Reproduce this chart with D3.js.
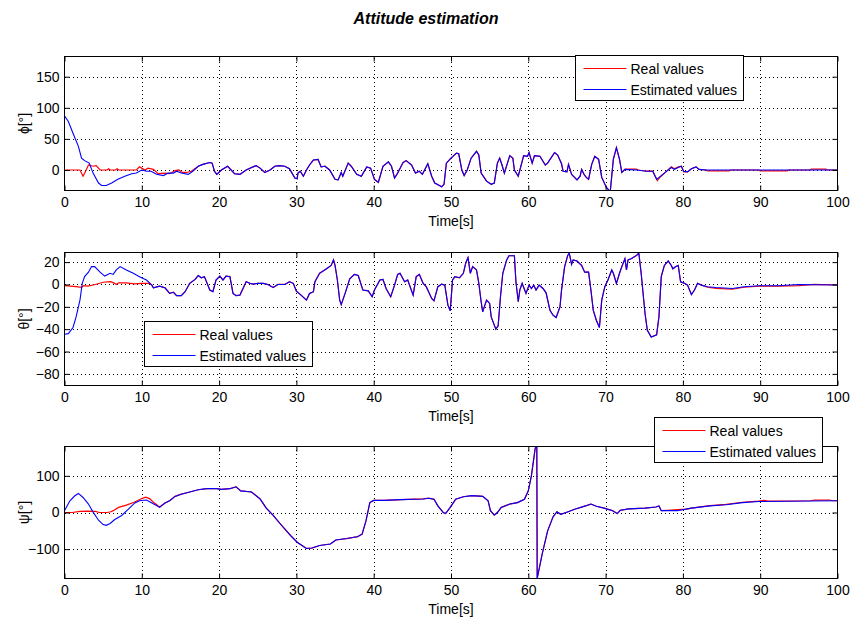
<!DOCTYPE html>
<html>
<head>
<meta charset="utf-8">
<script src="https://cdn.jsdelivr.net/npm/d3@7"></script>
<style>
body { margin: 0; background: #fff; }
svg { font-family: "Liberation Sans", Arial, sans-serif; }
.tick text { font-size: 14px; fill: #000; }
.grid line { stroke: #000; stroke-dasharray: 1,3; shape-rendering: crispEdges; }
.grid path { display: none; }
</style>
</head>
<body>
<script>
// Attitude estimation: real vs estimated angles over 100 s

const xTicks = [0, 10, 20, 30, 40, 50, 60, 70, 80, 90, 100]
const legendLabels = ["Real values", "Estimated values"]

// ---- phi ----
const phiTicks = [0, 50, 100, 150]
const phiEstStart = [[0,87],[0.5,78],[1.1,59],[1.8,38],[2.2,19],[2.6,15],[3.2,11],[3.7,-5],[4.4,-21],[4.8,-25],[5.4,-25],[6.1,-21],[6.9,-15],[7.8,-10],[8.7,-6],[9.3,-5],[10,0],[10.6,-2],[11.2,-2],[11.9,-7],[12.8,-9],[13.4,-5],[14.1,-5],[14.5,-2],[15.1,-5],[16,-7],[16.6,-2]]
const phiRealStart = [[0,0],[2,0],[2.4,-10],[2.7,-3],[3.1,8],[3.7,6],[4.1,7],[4.6,0],[5.5,0],[5.7,2],[5.9,0],[6.6,0],[6.8,2],[7,0],[9.3,0],[9.7,5],[10.4,0],[10.8,3],[11.5,1],[12.1,-6],[13,-5],[13.6,-6],[14.3,-1],[14.8,0],[15.2,-4],[15.8,-4],[16.4,-2],[17,3]]
const phiTrack = [[17.3,6],[17.9,9],[18.8,12],[19.1,11],[19.4,-2],[19.7,-7],[20.3,0],[21.1,6],[21.4,2],[22,-6],[22.7,-7],[23.5,0],[24.4,5],[24.8,7],[25.3,3],[25.9,-4],[26.6,0],[27.2,6],[27.8,7],[28.5,6],[29.1,2],[29.8,-13],[30.1,-14],[30.2,-5],[30.5,-2],[30.9,-10],[31.3,0],[31.7,8],[32.2,16],[32.8,17],[33.2,5],[33.7,6],[34.3,0],[35,-15],[35.4,-16],[35.8,-4],[36,-10],[36.7,11],[37.1,6],[37.8,-7],[38.4,-10],[39.1,5],[39.6,3],[40.1,-15],[40.6,-20],[41.2,6],[41.9,13],[42.3,6],[42.7,-13],[43.1,-5],[43.8,12],[44.2,15],[44.9,8],[45.4,-5],[45.9,-2],[46.3,-7],[47,10],[47.5,-10],[47.9,-21],[48.8,-27],[49.1,-23],[49.4,11],[50,19],[50.7,27],[51,26],[51.4,0],[51.7,-9],[52.1,0],[52.6,19],[53.3,30],[53.6,24],[53.9,-5],[54.6,-18],[55.2,-23],[55.6,-21],[56,11],[56.3,19],[56.6,8],[56.9,-5],[57.6,23],[58,19],[58.2,0],[58.7,-10],[59.4,23],[59.9,22],[60.1,28],[60.5,11],[60.8,23],[61.5,22],[62.2,8],[62.5,11],[63.4,28],[63.8,24],[64.3,10],[64.5,-2],[65,-3],[65.2,9],[65.6,-7],[66.3,-16],[66.7,-10],[66.9,1],[67.2,-7],[67.5,-12],[67.8,-15],[68.2,9],[68.6,22],[69.1,17],[69.5,-12],[70.1,-28],[70.6,-35],[71,17],[71.4,36],[71.8,17],[72.1,-4],[72.5,1]]
const phiEstTail = [[74,0],[75.3,-2],[76.1,-2],[76.6,-15],[77,-11],[77.8,-3],[78.5,4],[78.9,1],[79.4,4],[79.8,6],[80.1,-2],[80.6,-3],[81.1,2],[81.7,5],[82.1,1],[83,0],[100,0]]
const phiRealTail = [[72.6,1.5],[74,1.5],[74.2,0],[75.3,-2],[76.1,-2],[76.7,-17],[77,-12],[77.8,-3],[78.5,5],[78.9,2],[79.4,5],[79.8,6],[80.1,-3],[80.6,-3],[81.1,2],[81.7,5],[82.1,1],[83,0],[83.2,-1.5],[86,-1.5],[86.2,0],[89.8,0],[90,-1.5],[93.5,-1.5],[93.7,0],[96.5,0],[96.6,1.5],[98.5,1.5],[98.7,0],[100,0]]

// ---- theta ----
const thetaTicks = [-80, -60, -40, -20, 0, 20]
const thetaEstStart = [[0,-44.5],[0.5,-44],[1.1,-38.5],[1.5,-29],[2,-14],[2.3,1],[2.6,7],[3.1,11],[3.5,16],[3.9,16],[4.6,11],[5.2,7.5],[5.9,10],[6.3,9],[6.7,13],[7.2,16],[8,13],[8.9,10],[9.7,7],[10.6,4],[11.3,-0.6]]
const thetaRealStart = [[0,-1],[1.5,-2],[2.2,-2.5],[2.5,-1],[3,-1.5],[4,0],[5,2],[6,2.5],[6.5,1],[6.7,0],[7,1.5],[8,1.5],[9,0.5],[10,1],[11,1],[11.3,-0.6]]
const thetaTrack = [[11.5,-3],[12.3,-1.5],[13,-3],[13.6,-8],[14.1,-7],[14.5,-10],[15.1,-10],[15.6,-6.5],[16.2,1],[16.9,4.5],[17.3,8],[17.7,6],[18.1,7],[18.8,-5],[19.2,-6.5],[19.6,4],[20.1,7.5],[20.5,4],[20.9,7.5],[21.4,7],[21.8,-8],[22.2,-10],[22.7,-9.5],[23.1,-3.5],[23.5,2.4],[24,1],[24.4,0.3],[25,1],[25.7,1],[26.3,0],[27,-2.7],[27.6,0],[28.5,0],[29.1,2.4],[29.6,1],[30,-6],[30.6,-9.5],[31.3,-14],[31.7,-8],[32.2,-6.5],[32.4,2.4],[33,10],[33.9,14],[34.5,17],[34.8,22],[35,17],[35.3,4],[35.6,-14],[35.8,-18],[36.3,-8],[36.9,5],[37.5,9],[38,8],[38.6,-5],[39.3,-5.7],[39.8,-11],[40.1,-5],[40.8,4],[41.2,4.5],[41.6,-3.6],[42.2,-11],[42.7,-0.6],[43.1,9],[43.4,10],[44,2.4],[44.4,4],[45.1,-9.5],[45.5,7],[45.9,9],[46.4,1],[46.8,-2],[47.5,-12.5],[47.8,-14.6],[48.3,-2],[48.8,0.3],[49.2,-0.6],[49.6,-18.5],[49.9,-23.6],[50.2,4],[50.5,7],[51.1,6],[51.6,10],[51.9,19],[52.2,24],[52.5,10],[52.8,16],[53.3,13],[53.6,1],[53.9,-15.5],[54.1,-24.5],[54.6,-14],[55,-17],[55.2,-29],[55.8,-40],[56.1,-37],[56.4,-11],[56.7,10],[57.2,22],[57.5,25.7],[58.2,25.7],[58.4,2.4],[58.7,-15.5],[58.9,-5],[59.2,1],[59.7,-8],[60.1,-0.6],[60.4,-3.6],[60.7,-0.6],[61,-5],[61.4,-0.6],[61.9,-3.6],[62.3,-7.5],[62.8,-23],[63.2,-27.5],[63.6,-29.6],[64.1,-20],[64.3,-5],[64.7,16],[65.1,26],[65.3,28],[65.6,18],[65.8,22],[66.3,21],[66.9,17],[67.3,11],[67.8,11],[68.1,-5],[68.4,-23],[68.8,-32],[69.2,-38.5],[69.5,-14],[69.9,-2],[70.3,4],[70.8,13],[71,10],[71.4,1],[71.8,10],[72.1,16],[72.5,23],[72.7,13],[72.9,22],[73.3,23],[74,26],[74.3,28],[74.6,10],[75.1,-26],[75.4,-41],[75.9,-47],[76.6,-45],[76.9,-29],[77.2,7],[77.6,17],[78.1,21],[78.5,17],[78.7,14],[79.1,16],[79.4,17],[79.7,2.4],[80.2,1],[80.6,-0.6],[81.1,-9],[81.5,-5],[81.9,1],[82.4,-0.6]]
const thetaEstTail = [[83.2,-2],[84.3,-2.7],[86.4,-3.6],[87.9,-2],[89.9,-1.2],[92.4,-1.2],[95,0],[99.7,-0.5],[100,-0.5]]
const thetaRealTail = [[83.2,-2.5],[84.3,-3.5],[86.4,-4.3],[87.9,-2.5],[89.9,-1.5],[92.4,-1.5],[95,-1],[97,0],[100,-0.5]]

// ---- psi ----
const psiTicks = [-100, 0, 100]
const psiEstStart = [[0,5],[0.7,32],[1.3,45],[1.8,52],[2.4,41],[3.1,23],[3.7,1],[4.4,-21],[5,-33],[5.4,-35],[5.9,-30],[6.5,-19],[7.4,-8],[8.2,8],[9.1,26],[9.7,32],[10.6,34],[11.3,26],[11.9,19],[12.3,14]]
const psiRealStart = [[0,0],[1,0],[2,3],[3,4],[4,3],[4.5,0],[5.5,0],[6,2],[6.3,5],[7,14],[8,20],[9,28],[10,38],[10.5,42],[11,38],[11.5,28],[12.3,15]]
const psiTrack = [[13,26],[13.6,32],[14.3,44],[15.1,50],[16.2,56],[17.3,62],[18.4,65],[19.7,65],[20.3,63],[21.4,65],[22.2,70],[22.8,59],[24.2,56],[25.3,37],[26.1,12],[27,-8],[27.8,-28],[28.5,-45],[29.3,-64],[30.1,-81],[31.3,-98],[32,-97],[33,-90],[34.4,-86],[35.1,-75],[36.5,-71],[37.9,-66],[38.5,-59],[39,-23],[39.5,27],[40,33],[41.4,33],[43.5,35],[46.4,37],[47.1,39],[47.8,36],[48.3,18],[49,0],[49.3,-3],[49.9,14],[50.6,36],[51.6,43],[52.7,46],[54.1,44],[54.8,32],[55.1,5],[55.6,-7],[56,0],[56.5,14],[57.6,23],[58.6,27],[59.5,36],[60,59],[60.4,100],[60.9,176],[61.1,180],[61.15,-180],[61.8,-113],[62.5,-50],[63.2,-12],[63.7,2],[64.2,-5],[64.9,0],[66,9],[67.4,18],[68.1,23],[68.8,17],[69.8,12],[70.9,5],[71.5,-3],[71.9,6],[73,10],[75.1,12],[76.5,15],[76.9,18],[77.2,5]]
const psiEstTail = [[79.3,5],[81.1,12],[83.5,18],[85.6,21],[87.7,27],[89.8,30],[100,32]]
const psiRealTail = [[78,6],[79.3,8],[80.5,9],[81.1,12],[83.5,19],[85.6,22],[87.7,28],[89.8,31],[90.5,33],[91,31],[96.5,32],[97,34],[99,34],[99.3,32],[100,32]]

const width = 850, height = 618

const svg = d3.select("body").append("svg")
    .attr("width", width)
    .attr("height", height)

svg.append("text")
    .attr("x", 426)
    .attr("y", 24)
    .attr("text-anchor", "middle")
    .style("font-size", "16px")
    .style("font-style", "italic")
    .style("font-weight", "bold")
    .text("Attitude estimation")

const x = d3.scaleLinear()
    .domain([0, 100])
    .range([64.5, 837.5])

const panels = [
  { top: 56.5, bottom: 190.5, domain: [-33, 182.5], ticks: phiTicks, label: "ϕ[°]",
    real: phiRealStart.concat(phiTrack, phiRealTail), est: phiEstStart.concat(phiTrack, phiEstTail),
    legend: [575.5, 55.5] },
  { top: 252.5, bottom: 385.5, domain: [-90.4, 28.6], ticks: thetaTicks, label: "θ[°]",
    real: thetaRealStart.concat(thetaTrack, thetaRealTail), est: thetaEstStart.concat(thetaTrack, thetaEstTail),
    legend: [144.5, 321.5] },
  { top: 446.5, bottom: 578.5, domain: [-180, 180], ticks: psiTicks, label: "ψ[°]",
    real: psiRealStart.concat(psiTrack, psiRealTail), est: psiEstStart.concat(psiTrack, psiEstTail),
    legend: [654.5, 417.5] }
]

const colors = ["#ff0000", "#0000ff"]

panels.forEach(function(p, i){
  const y = d3.scaleLinear().domain(p.domain).range([p.bottom, p.top])
  const g = svg.append("g").attr("class", "panel")
  const w = x.range()[1] - x.range()[0], h = p.bottom - p.top

  g.append("rect")
      .attr("x", x.range()[0]).attr("y", p.top)
      .attr("width", w).attr("height", h)
      .style("fill", "#fff")

  // dotted grid
  g.append("g").attr("class", "grid")
      .attr("transform", "translate(0," + p.bottom + ")")
      .call(d3.axisBottom(x).tickValues(xTicks.slice(1, -1)).tickSize(-h).tickFormat(""))
  g.append("g").attr("class", "grid")
      .attr("transform", "translate(" + x.range()[0] + ",0)")
      .call(d3.axisLeft(y).tickValues(p.ticks).tickSize(-w).tickFormat(""))

  const clipId = "clip" + i
  svg.append("clipPath").attr("id", clipId)
    .append("rect")
      .attr("x", x.range()[0]).attr("y", p.top)
      .attr("width", w).attr("height", h)

  const line = d3.line()
      .x(function(d){ return x(d[0]) })
      .y(function(d){ return y(d[1]) })

  g.append("path")
      .datum(p.real)
      .attr("clip-path", "url(#" + clipId + ")")
      .attr("d", line)
      .style("fill", "none")
      .style("stroke", colors[0])
      .style("stroke-width", 1.2)
  g.append("path")
      .datum(p.est)
      .attr("clip-path", "url(#" + clipId + ")")
      .attr("d", line)
      .style("fill", "none")
      .style("stroke", colors[1])
      .style("stroke-width", 1.1)

  // axes, ticks inside like matlab
  const axB = g.append("g").attr("transform", "translate(0," + p.bottom + ")")
      .call(d3.axisBottom(x).tickValues(xTicks).tickSize(-5).tickPadding(7))
  const axT = g.append("g").attr("transform", "translate(0," + p.top + ")")
      .call(d3.axisTop(x).tickValues(xTicks).tickSize(-5).tickFormat(""))
  const axL = g.append("g").attr("transform", "translate(" + x.range()[0] + ",0)")
      .call(d3.axisLeft(y).tickValues(p.ticks).tickSize(-5).tickPadding(5))
  const axR = g.append("g").attr("transform", "translate(" + x.range()[1] + ",0)")
      .call(d3.axisRight(y).tickValues(p.ticks).tickSize(-5).tickFormat(""))
  ;[axB, axT, axL, axR].forEach(function(a){
    a.select(".domain").remove()
    a.selectAll(".tick line").style("stroke", "#000")
    a.selectAll(".tick text").style("font-family", "'Liberation Sans', Arial, sans-serif")
  })

  g.append("rect")
      .attr("x", x.range()[0]).attr("y", p.top)
      .attr("width", w).attr("height", h)
      .style("fill", "none")
      .style("stroke", "#000")

  g.append("text")
      .attr("x", (x.range()[0] + x.range()[1]) / 2)
      .attr("y", p.bottom + 35)
      .attr("text-anchor", "middle")
      .style("font-size", "14px")
      .text("Time[s]")

  g.append("text")
      .attr("transform", "translate(29," + (p.top + p.bottom) / 2 + ") rotate(-90)")
      .attr("text-anchor", "middle")
      .style("font-size", "14px")
      .text(p.label)

  // legend
  const lg = g.append("g").attr("transform", "translate(" + p.legend[0] + "," + p.legend[1] + ")")
  lg.append("rect")
      .attr("width", 168).attr("height", 45)
      .style("fill", "#fff").style("stroke", "#000")
  legendLabels.forEach(function(lab, j){
    const yy = 13 + j * 21
    lg.append("line")
        .attr("x1", 8).attr("x2", 51)
        .attr("y1", yy).attr("y2", yy)
        .style("stroke", colors[j]).style("stroke-width", 1.2)
    lg.append("text")
        .attr("x", 55).attr("y", yy + 5)
        .style("font-size", "14px")
        .text(lab)
  })
})
</script>
</body>
</html>
